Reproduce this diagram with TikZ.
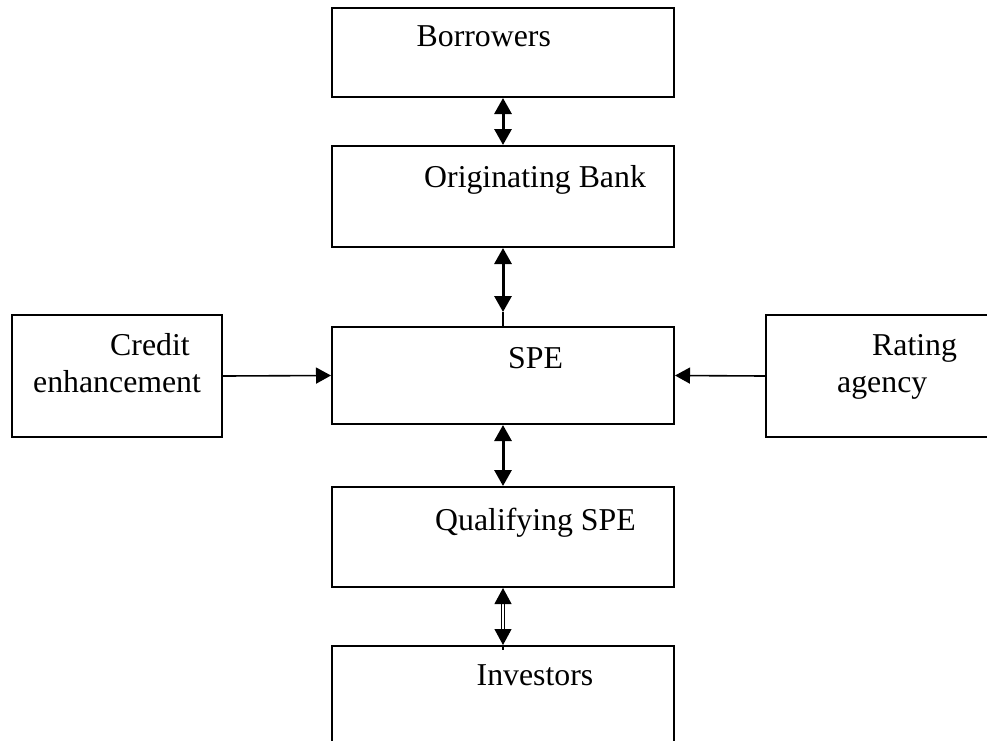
\documentclass[tikz,border=0pt]{standalone}
\usepackage{fontspec}
\setmainfont{Liberation Serif}
\usetikzlibrary{arrows.meta}
\begin{document}
\begin{tikzpicture}[x=1pt,y=-1pt,
  box/.style={draw=black,line width=2pt,inner sep=0pt,minimum width=342pt},
  lbl/.style={anchor=base west,inner sep=0pt,font=\fontsize{31.8}{38}\selectfont},
  link/.style={line width=3pt,{Triangle[length=16pt,width=17pt]}-{Triangle[length=16pt,width=17pt]}},
  feed/.style={line width=1.6pt,-{Triangle[length=15pt,width=16pt]}}]
\clip (0,0) rectangle (987,740);
% central column of boxes
\node[box,minimum height=89pt]  (borrow) at (503,52.5) {};
\node[box,minimum height=101pt] (orig)   at (503,196.5) {};
\node[box,minimum height=97pt]  (spe)    at (503,375.5) {};
\node[box,minimum height=100pt] (qspe)   at (503,537) {};
\node[box,minimum height=120pt] (inv)    at (503,706) {};
% side boxes
\node[box,minimum width=210pt,minimum height=122pt] (credit) at (117,376) {};
\node[box,minimum width=250pt,minimum height=122pt] (rating) at (891,376) {};
% labels
\node[lbl] (tb) at (416.5,46.7) {Borrowers};
\node[lbl] (to) at (424,187) {Originating Bank};
\node[lbl] (ts) at (508,368) {SPE};
\node[lbl] (tq) at (435,530) {Qualifying SPE};
\node[lbl] (ti) at (476.5,685) {Investors};
\node[lbl] (tc1) at (110,355) {Credit};
\node[lbl] (tc2) at (33,392) {enhancement};
\node[lbl] (tr1) at (872,355) {Rating};
\node[lbl] (tr2) at (837,392) {agency};
% connectors
\draw[link] (borrow.south) -- (orig.north);
\coordinate (speTop) at ([yshift=14pt]spe.north);
\draw[link] (orig.south) -- (speTop);
\draw[line width=1.6pt] (speTop) -- (spe.north);
\draw[link] (spe.south) -- (qspe.north);
\draw[line width=1.1pt,double,double distance=1.4pt,
  {Triangle[length=16pt,width=17pt]}-{Triangle[length=16pt,width=17pt]}]
  (qspe.south) -- (inv.north);
\draw[line width=1.6pt] (inv.north) -- ++(0,5);
\draw[feed] (credit.east) -- (spe.west);
\draw[feed] (rating.west) -- (spe.east);
\end{tikzpicture}
\end{document}
